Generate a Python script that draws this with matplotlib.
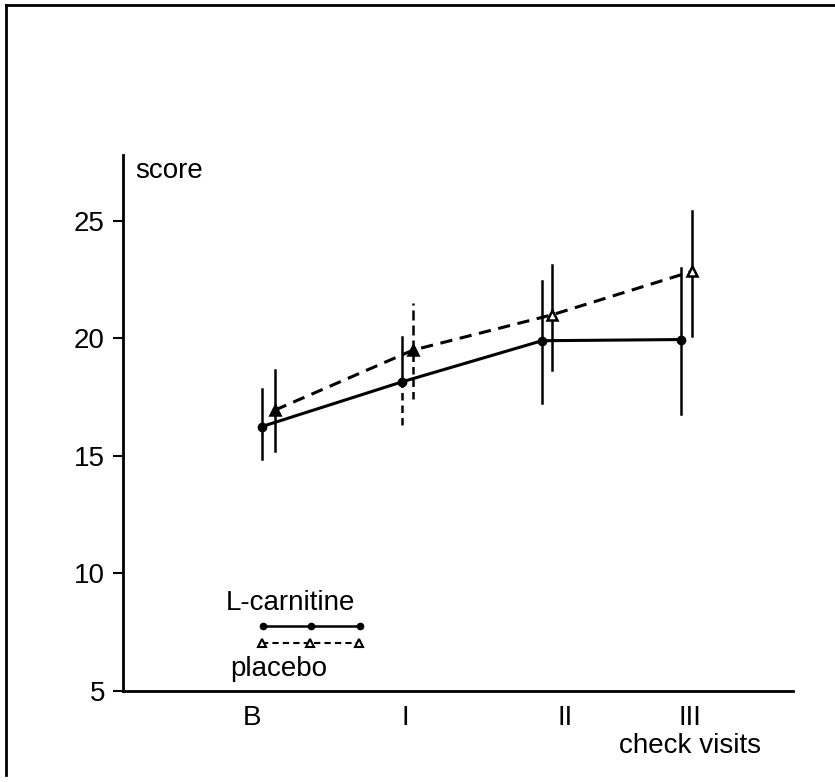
import matplotlib
matplotlib.use('Agg')
import matplotlib.pyplot as plt
from matplotlib.lines import Line2D

plt.rcParams['font.family'] = ['Liberation Sans', 'DejaVu Sans']

# ---- data ----
visits = ['B', 'I', 'II', 'III']
visit_pos = [12.9, 28.2, 44.2, 56.7]

lcar_x = [13.9, 27.9, 41.9, 55.8]
lcar_mean = [16.25, 18.15, 19.9, 19.95]
lcar_lo = [14.85, 16.3, 17.25, 16.8]
lcar_hi = [17.85, 20.05, 22.45, 23.0]

plac_x = [15.2, 29.0, 42.9, 56.9]
plac_mean = [16.95, 19.5, 21.0, 22.85]
plac_lo = [15.2, 17.4, 18.65, 20.1]
plac_hi = [18.65, 21.5, 23.1, 25.4]

yticks = [5, 10, 15, 20, 25]

# ---- styles ----
FS = 20
lcar_up_style = ['-', '-', '-', '-']
lcar_dn_style = ['-', (0, (3, 2)), '-', '-']
plac_up_style = ['-', (0, (4, 2)), '-', '-']
plac_dn_style = ['-', (0, (3, 2)), '-', '-']
plac_face = ['k', 'k', 'w', 'w']

fig = plt.figure(figsize=(8.35, 7.82), dpi=100)
ax = fig.add_axes([123/835, 1 - 691/782, (793 - 123)/835, 536/782])
ax.set_xlim(0, 67)
ax.set_ylim(5, 27.8)

# error bars
for i in range(len(lcar_x)):
    ax.plot([lcar_x[i], lcar_x[i]], [lcar_mean[i], lcar_hi[i]], color='k', lw=1.8,
            linestyle=lcar_up_style[i], zorder=2)
    ax.plot([lcar_x[i], lcar_x[i]], [lcar_lo[i], lcar_mean[i]], color='k', lw=1.8,
            linestyle=lcar_dn_style[i], zorder=2)
    ax.plot([plac_x[i], plac_x[i]], [plac_mean[i], plac_hi[i]], color='k', lw=1.8,
            linestyle=plac_up_style[i], zorder=2)
    ax.plot([plac_x[i], plac_x[i]], [plac_lo[i], plac_mean[i]], color='k', lw=1.8,
            linestyle=plac_dn_style[i], zorder=2)

# lines
ax.plot(lcar_x, lcar_mean, color='k', lw=2.2, zorder=3)
ax.plot(plac_x, plac_mean, color='k', lw=2.2, linestyle=(0, (4, 2.5)), zorder=3)
ax.plot(lcar_x, lcar_mean, 'o', color='k', ms=6, zorder=4)
for i in range(len(plac_x)):
    ax.plot(plac_x[i], plac_mean[i], '^', mfc=plac_face[i], mec='k', mew=1.8, ms=6.5, zorder=4)

# axes styling
for s in ['top', 'right']:
    ax.spines[s].set_visible(False)
ax.spines['left'].set_linewidth(2)
ax.spines['bottom'].set_linewidth(2)
ax.set_yticks(yticks)
ax.set_yticklabels([str(v) for v in yticks])
ax.tick_params(axis='y', direction='out', length=7, width=1.5, pad=6, labelsize=FS)
ax.set_xticks(visit_pos)
ax.set_xticklabels(visits)
ax.tick_params(axis='x', length=0, pad=10, labelsize=FS)

ax.text(1.2, 27.1, 'score', fontsize=FS, ha='left', va='center')
fig.text(690/835, 1 - 746/782, 'check visits', fontsize=FS, ha='center', va='center')

# legend (drawn manually)
leg_x = [14.0, 18.8, 23.7]
ax.text(16.7, 8.75, 'L-carnitine', fontsize=FS, ha='center', va='center')
ax.plot(leg_x, [7.77]*3, '-o', color='k', lw=1.8, ms=4.5)
ax.plot([x - 0.1 for x in leg_x], [7.04]*3, color='k', lw=1.5, linestyle=(0, (3, 2)))
ax.plot([x - 0.1 for x in leg_x], [7.04]*3, '^', mfc='w', mec='k', mew=1.5, ms=5.5)
ax.text(15.6, 5.95, 'placebo', fontsize=FS, ha='center', va='center')

# figure frame (top and left)
fig.add_artist(Line2D([6/835, 1], [1 - 5/782, 1 - 5/782], transform=fig.transFigure, color='k', lw=2))
fig.add_artist(Line2D([6/835, 6/835], [1 - 5/782, 1 - 775/782], transform=fig.transFigure, color='k', lw=2))

fig.savefig('out.png', dpi=100, facecolor='white')
